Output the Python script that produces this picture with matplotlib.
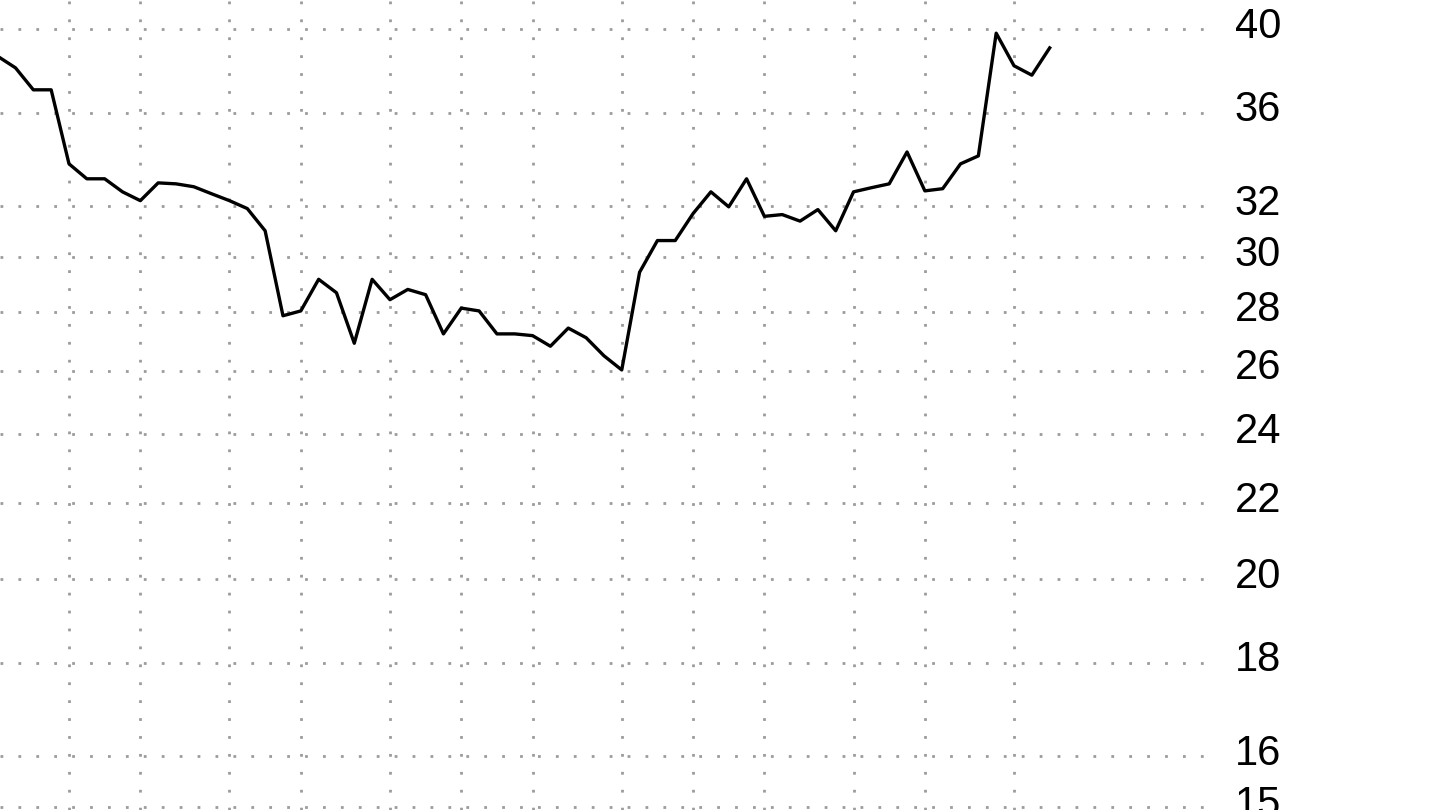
import numpy as np
import matplotlib.pyplot as plt
from matplotlib.ticker import FixedLocator, NullLocator
from matplotlib.transforms import ScaledTranslation

# weekly closing prices, one per week (week 0 .. 59)
weeks = np.arange(60)
closes = [38.65, 38.09, 37.05, 37.05, 33.75, 33.12, 33.12, 32.58, 32.22, 32.95,
          32.91, 32.79, 32.50, 32.22, 31.90, 31.02, 27.87, 28.04, 29.18, 28.69,
          26.92, 29.18, 28.44, 28.81, 28.62, 27.24, 28.14, 28.04, 27.24, 27.24,
          27.18, 26.82, 27.44, 27.11, 26.50, 26.03, 29.44, 30.64, 30.64, 31.70,
          32.58, 31.97, 33.12, 31.59, 31.66, 31.40, 31.86, 31.02, 32.58, 32.75,
          32.91, 34.26, 32.62, 32.71, 33.75, 34.09, 39.79, 38.19, 37.74, 39.06]

# first week of each month -> vertical grid
month_weeks = [4, 8, 13, 17, 22, 26, 30, 35, 39, 43, 48, 52, 57]

# price levels on the right axis
price_ticks = [15, 16, 18, 20, 22, 24, 26, 28, 30, 32, 36, 40]

plt.rcParams['font.family'] = ['Liberation Sans', 'DejaVu Sans']
plt.rcParams['lines.scale_dashes'] = False

fig = plt.figure(figsize=(14.4, 8.1), dpi=100)
ax = fig.add_axes([0, 0, 1218 / 1440, 1])

ax.plot(weeks, closes, color='black', linewidth=2.4)

ax.set_yscale('log')
ax.set_ylim(14.95, 41.49)
ax.set_xlim(0.13, 68.44)

ax.yaxis.set_major_locator(FixedLocator(price_ticks))
ax.yaxis.set_minor_locator(NullLocator())
ax.set_yticklabels([str(t) for t in price_ticks])
ax.xaxis.set_major_locator(FixedLocator(month_weeks))
ax.xaxis.set_minor_locator(NullLocator())

ax.yaxis.tick_right()
ax.tick_params(axis='y', length=0, pad=12, labelsize=30)
ax.tick_params(axis='x', length=0, labelbottom=False)

# labels sit a little above their grid line
shift = ScaledTranslation(0, 0.07, fig.dpi_scale_trans)
for lab in ax.get_yticklabels():
    lab.set_transform(lab.get_transform() + shift)

# square grey dots, ~18 px apart
ax.grid(True, color='#9c9c9c', linestyle=(0, (2.0, 10.9)), linewidth=2.0)
for s in ax.spines.values():
    s.set_visible(False)

fig.savefig('out.png', dpi=100)
